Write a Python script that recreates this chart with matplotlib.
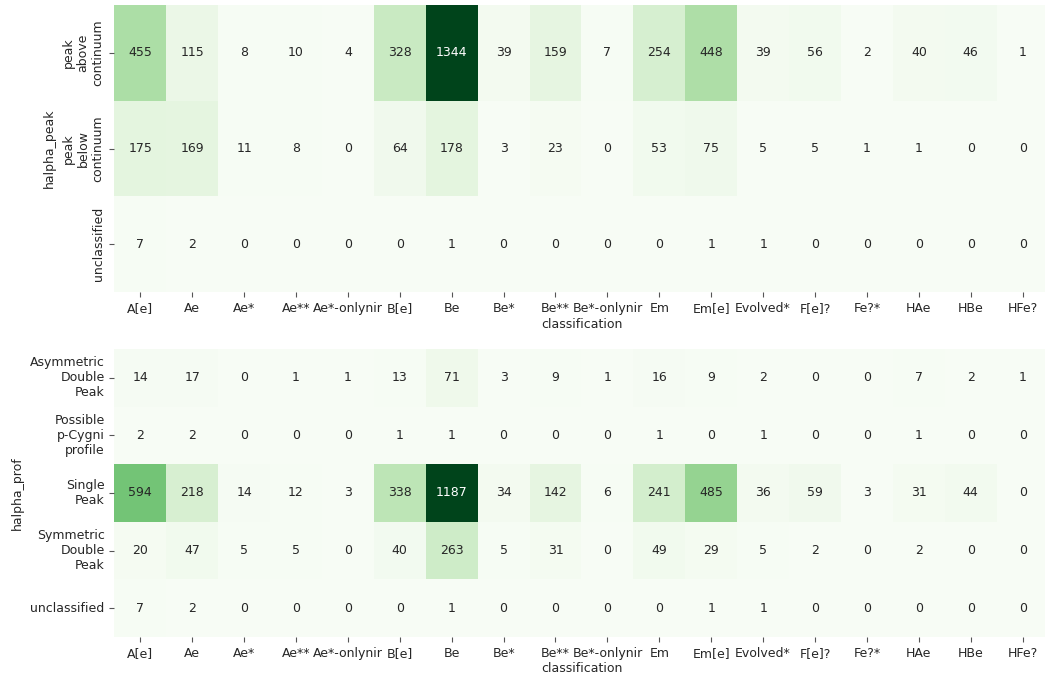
import numpy as np
import pandas as pd
import matplotlib
matplotlib.use("Agg")
import matplotlib.pyplot as plt
import seaborn as sns

classes = ["A[e]", "Ae", "Ae*", "Ae**", "Ae*-onlynir", "B[e]", "Be", "Be*", "Be**",
           "Be*-onlynir", "Em", "Em[e]", "Evolved*", "F[e]?", "Fe?*", "HAe", "HBe", "HFe?"]

peak_rows = ["peak\nabove\ncontinuum", "peak\nbelow\ncontinuum", "unclassified"]
peak_above = [455, 115, 8, 10, 4, 328, 1344, 39, 159, 7, 254, 448, 39, 56, 2, 40, 46, 1]
peak_below = [175, 169, 11, 8, 0, 64, 178, 3, 23, 0, 53, 75, 5, 5, 1, 1, 0, 0]
peak_uncl = [7, 2, 0, 0, 0, 0, 1, 0, 0, 0, 0, 1, 1, 0, 0, 0, 0, 0]

prof_rows = ["Asymmetric\nDouble\nPeak", "Possible\np-Cygni\nprofile", "Single\nPeak",
             "Symmetric\nDouble\nPeak", "unclassified"]
prof_asym = [14, 17, 0, 1, 1, 13, 71, 3, 9, 1, 16, 9, 2, 0, 0, 7, 2, 1]
prof_pcyg = [2, 2, 0, 0, 0, 1, 1, 0, 0, 0, 1, 0, 1, 0, 0, 1, 0, 0]
prof_single = [594, 218, 14, 12, 3, 338, 1187, 34, 142, 6, 241, 485, 36, 59, 3, 31, 44, 0]
prof_sym = [20, 47, 5, 5, 0, 40, 263, 5, 31, 0, 49, 29, 5, 2, 0, 2, 0, 0]
prof_uncl = [7, 2, 0, 0, 0, 0, 1, 0, 0, 0, 0, 1, 1, 0, 0, 0, 0, 0]

peak_df = pd.DataFrame([peak_above, peak_below, peak_uncl], index=peak_rows, columns=classes)
prof_df = pd.DataFrame([prof_asym, prof_pcyg, prof_single, prof_sym, prof_uncl],
                       index=prof_rows, columns=classes)

fs = 9
plt.rcParams.update({
    "font.family": ["DejaVu Sans"],
    "font.size": fs,
    "text.color": "#262626",
    "axes.labelcolor": "#262626",
    "xtick.color": "#262626",
    "ytick.color": "#262626",
})

fig = plt.figure(figsize=(10.45, 6.8), dpi=100)
left = 114.3 / 1045
width = 934.3 / 1045
ax1 = fig.add_axes([left, 1 - 292 / 680, width, 287 / 680])
ax2 = fig.add_axes([left, 1 - 637 / 680, width, 288 / 680])

for ax, df, rot in ((ax1, peak_df, 90), (ax2, prof_df, 0)):
    sns.heatmap(df, ax=ax, cmap="Greens", annot=True, fmt="d", cbar=False,
                annot_kws={"fontsize": fs})
    ax.set_xlabel("classification", fontsize=fs, labelpad=2)
    ax.set_xticklabels(ax.get_xticklabels(), rotation=0, fontsize=fs)
    ax.set_yticklabels(ax.get_yticklabels(), rotation=rot, fontsize=fs,
                       va="center", ha="right",
                       multialignment="center" if rot == 90 else "right")
    ax.tick_params(axis="both", length=3.5, width=0.8, color="#555555", pad=3.5)

ax1.set_ylabel("halpha_peak", fontsize=fs)
ax2.set_ylabel("halpha_prof", fontsize=fs)

fig.savefig("out.png", dpi=100)
